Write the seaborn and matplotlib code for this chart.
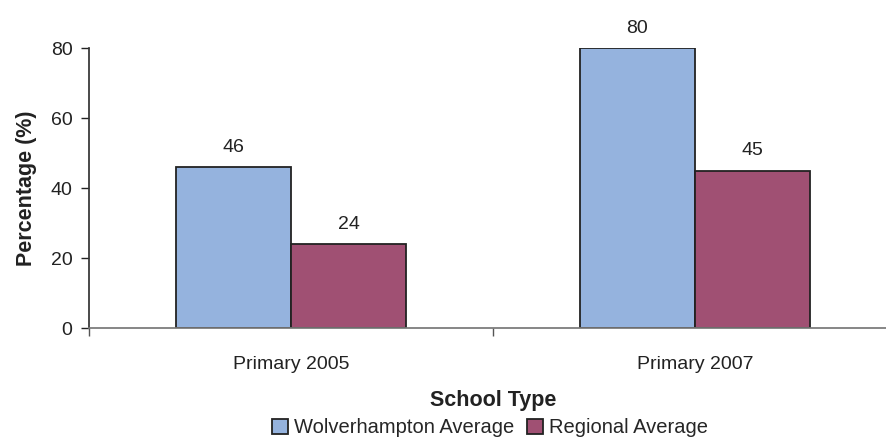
import pandas as pd
import matplotlib.pyplot as plt
import seaborn as sns

# data
school_types = ['Primary 2005', 'Primary 2007']
series_names = ['Wolverhampton Average', 'Regional Average']
wolverhampton = [46, 80]
regional = [24, 45]

df = pd.DataFrame({
    'School Type': school_types * 2,
    'Series': [series_names[0]] * 2 + [series_names[1]] * 2,
    'Value': wolverhampton + regional,
})

sns.set_theme(style='white')
plt.rcParams['font.family'] = ['Liberation Sans', 'DejaVu Sans']

fig = plt.figure(figsize=(8.86, 4.41), dpi=100)
ax = fig.add_axes([0.1005, 0.256, 0.912, 0.635])

palette = ['#95B3DE', '#A05073']
sns.barplot(data=df, x='School Type', y='Value', hue='Series', palette=palette,
            width=0.57, edgecolor='#222222', linewidth=1.3, saturation=1,
            ax=ax, legend=True)

for cont in ax.containers:
    ax.bar_label(cont, fmt='%d', padding=8, fontsize=14, color='#222222')

ax.set_ylim(0, 80)
ax.set_xlim(-0.5, 1.5)
ax.set_yticks([0, 20, 40, 60, 80])
ax.tick_params(axis='y', labelsize=14, colors='#222222', length=6, width=1, direction='out', left=True, pad=6)
ax.tick_params(axis='x', labelsize=14, colors='#222222', length=0, pad=20)
ax.set_xticks([-0.5, 0.5, 1.5], minor=True)
ax.tick_params(axis='x', which='minor', length=6, width=1, color='#555555', bottom=True)

for s in ['top', 'right']:
    ax.spines[s].set_visible(False)
ax.spines['left'].set_color('#333333')
ax.spines['bottom'].set_color('#777777')

ax.set_ylabel('Percentage (%)', fontsize=15.5, fontweight='bold', color='#222222', labelpad=10)
ax.set_xlabel('School Type', fontsize=15.5, fontweight='bold', color='#222222', labelpad=12)

handles, labels = ax.get_legend_handles_labels()
ax.legend_.remove()
fig.legend(handles, labels, loc='center', bbox_to_anchor=(0.553, 0.03), ncol=2,
           frameon=False, fontsize=14.5, handlelength=0.8, handleheight=0.8,
           handletextpad=0.3, columnspacing=0.6)

plt.savefig('out.png', dpi=100, facecolor='white')
